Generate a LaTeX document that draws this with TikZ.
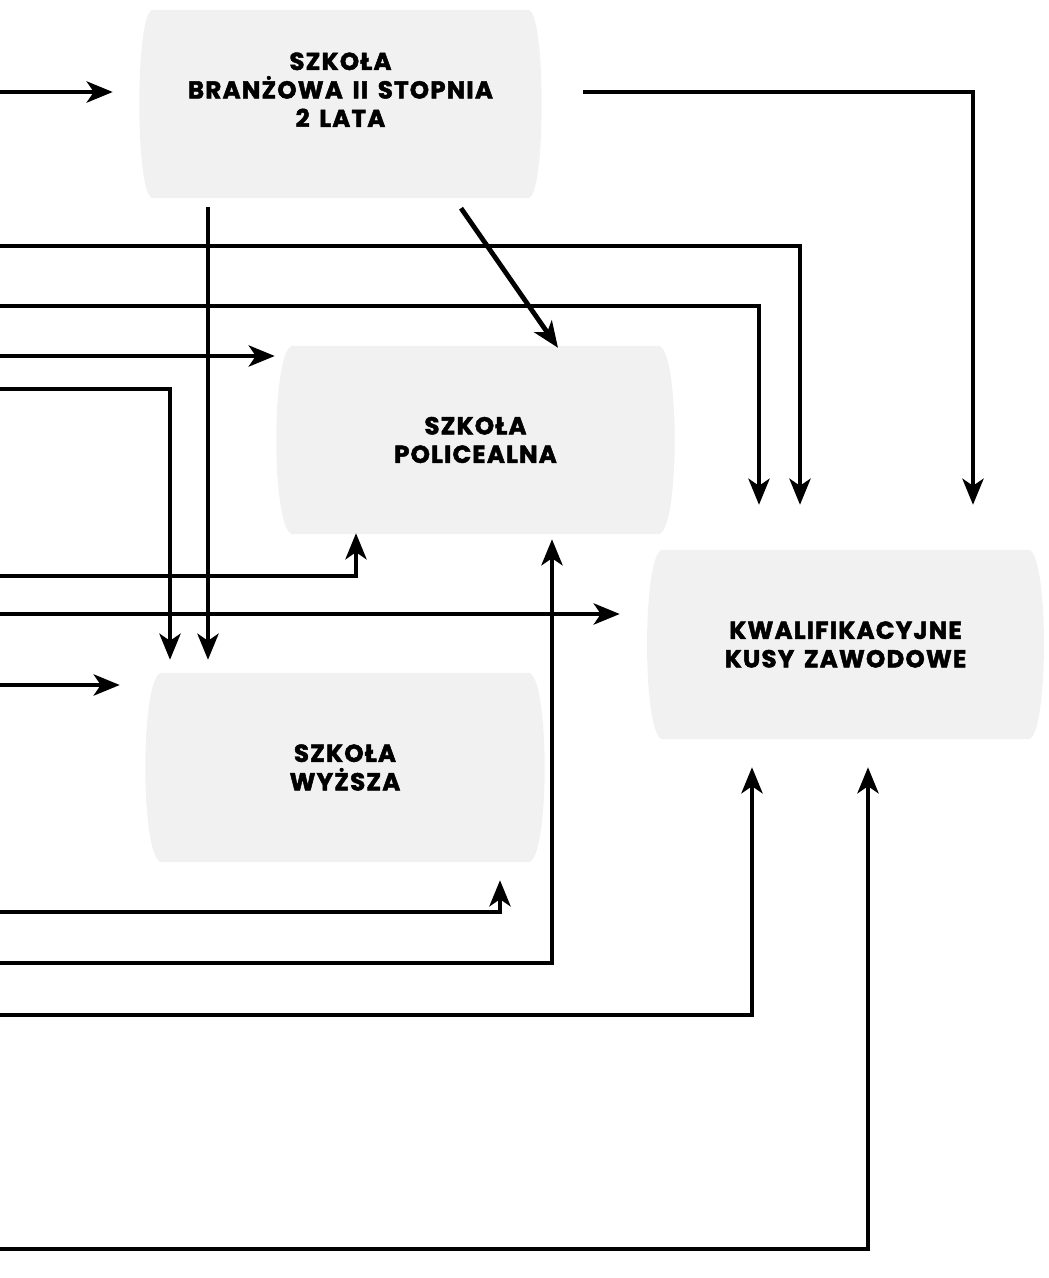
\documentclass[tikz,border=0pt]{standalone}
\usepackage{fontspec}
\setmainfont{Poppins}[BoldFeatures={FakeBold=2, LetterSpace=5, WordSpace=1.5}]
\usetikzlibrary{arrows.meta,backgrounds}
\definecolor{boxgray}{HTML}{F1F1F1}
\tikzset{
  conn/.style={line width=4.8pt, -{Stealth[length=26pt,width=21pt,inset=7pt]}},
  stage/.style={rectangle, draw=none, inner sep=0pt, align=center,
    font=\bfseries\fontsize{24.5}{28.5}\selectfont, text=black},
}
\newcommand\barrelfill[2]{%
  \fill[boxgray] (#1.north west) -- (#1.north east)
    .. controls ([xshift=#2]#1.north east) and ([xshift=#2]#1.south east) .. (#1.south east)
    -- (#1.south west)
    .. controls ([xshift=-#2]#1.south west) and ([xshift=-#2]#1.north west) .. (#1.north west) -- cycle;}
\begin{document}
\begin{tikzpicture}[x=1pt,y=-1pt]
\useasboundingbox (0,0) rectangle (1049,1278);
% boxes
\node[stage, minimum width=375pt, minimum height=188pt] (sb) at (340.5,104) {SZKOŁA\\BRANŻOWA II STOPNIA\\2 LATA\\\mbox{}};
\node[stage, minimum width=365pt, minimum height=188pt] (sp) at (475.5,440) {SZKOŁA\\POLICEALNA};
\node[stage, minimum width=365pt, minimum height=189pt] (kkz) at (845.5,644.5) {KWALIFIKACYJNE\\KUSY ZAWODOWE};
\node[stage, minimum width=366pt, minimum height=189pt] (sw) at (345,767.5) {SZKOŁA\\WYŻSZA};
\begin{scope}[on background layer]
  \barrelfill{sb}{18pt}
  \barrelfill{sp}{22pt}
  \barrelfill{kkz}{21pt}
  \barrelfill{sw}{22pt}
\end{scope}
% free ends on the left edge
\coordinate (a1) at (0,92);
\coordinate (a5) at (0,246);
\coordinate (a6) at (0,306);
\coordinate (a7) at (0,356);
\coordinate (a8) at (0,389);
\coordinate (a9) at (0,576);
\coordinate (a10) at (0,614);
\coordinate (a11) at (0,685);
\coordinate (a12) at (0,912);
\coordinate (a13) at (0,963);
\coordinate (a14) at (0,1015);
\coordinate (a15) at (0,1249);
% connectors
\draw[conn, shorten >=40pt] (a1) -- (a1 -| sb.west);
\draw[conn] ([xshift=55pt,yshift=12pt]sb.east) -| ([xshift=127.5pt,yshift=45pt]kkz.north);
\draw[conn] ([xshift=-132.5pt,yshift=-9pt]sb.south) -- ([xshift=-137pt,yshift=13pt]sw.north);
\draw[conn] ([xshift=120.5pt,yshift=-10pt]sb.south) -- ([xshift=82.5pt,yshift=-2pt]sp.north);
\draw[conn] (a5) -| ([xshift=-45.5pt,yshift=45pt]kkz.north);
\draw[conn] (a6) -| ([xshift=-86.5pt,yshift=45pt]kkz.north);
\draw[conn, shorten >=18pt] (a7) -- (a7 -| sp.west);
\draw[conn] (a8) -| ([xshift=-175pt,yshift=13pt]sw.north);
\draw[conn] (a9) -| ([xshift=-119.5pt,yshift=1pt]sp.south);
\draw[conn, shorten >=43pt] (a10) -- (a10 -| kkz.west);
\draw[conn, shorten >=42pt] (a11) -- (a11 -| sw.west);
\draw[conn] (a12) -| ([xshift=155pt,yshift=-18pt]sw.south);
\draw[conn] (a13) -| ([xshift=76.5pt,yshift=-5pt]sp.south);
\draw[conn] (a14) -| ([xshift=-93.5pt,yshift=-28pt]kkz.south);
\draw[conn] (a15) -| ([xshift=22.5pt,yshift=-28pt]kkz.south);
\end{tikzpicture}
\end{document}
